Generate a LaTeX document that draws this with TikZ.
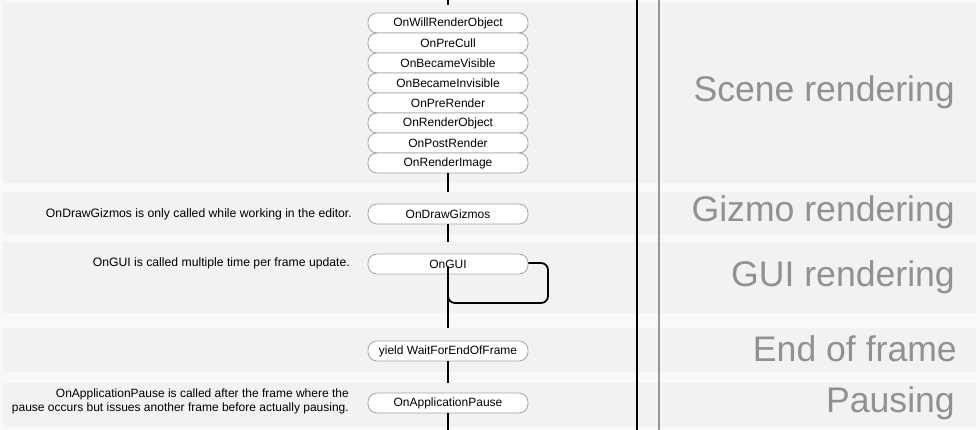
\documentclass[tikz,border=0pt]{standalone}
\usepackage{fontspec}
\setmainfont{Liberation Sans}
\definecolor{bgc}{RGB}{248,249,251}
\definecolor{band}{RGB}{242,242,242}
\definecolor{boxline}{RGB}{165,165,165}
\definecolor{biglabel}{RGB}{145,145,145}
\definecolor{sepgray}{RGB}{150,150,150}
\begin{document}
\begin{tikzpicture}[x=1pt,y=-1pt,
  callbox/.style={draw=boxline,line width=0.8pt,fill=white,rounded corners=9pt,
    minimum width=160pt,minimum height=20pt,inner sep=0pt,
    font=\fontsize{12}{14}\selectfont},
  flow/.style={line width=1.8pt,black},
  note/.style={anchor=east,align=right,inner sep=0pt,font=\fontsize{12.2}{13.5}\selectfont},
  phase/.style={anchor=base east,inner sep=0pt,text=biglabel,font=\fontsize{35.6}{40}\selectfont}]
\useasboundingbox (0,0) rectangle (980,430);
\fill[bgc] (0,0) rectangle (980,430);
% bands
\fill[band] (3,3) rectangle (976,183);
\fill[band] (3,192) rectangle (976,235);
\fill[band] (3,242) rectangle (976,313);
\fill[band] (3,328) rectangle (976,372);
\fill[band] (3,383) rectangle (976,427);
% separators
\draw[line width=1.8pt,black] (637,0) -- (637,430);
\draw[line width=1.3pt,sepgray] (659,0) -- (659,430);
% phase labels
\node[phase] (lscene) at (955,102) {Scene rendering};
\node[phase] (lgizmo) at (955,222) {Gizmo rendering};
\node[phase] (lgui) at (955,287) {GUI rendering};
\node[phase] (lend) at (957,362) {End of frame};
\node[phase] (lpause) at (955,412) {Pausing};
% notes
\node[note] (ngizmo) at (352,214) {OnDrawGizmos is only called while working in the editor.};
\node[note] (ngui) at (350,263) {OnGUI is called multiple time per frame update.};
\node[note,font=\fontsize{12}{13.5}\selectfont] (npause) at (349,401.5) {OnApplicationPause is called after the frame where the\\pause occurs but issues another frame before actually pausing.};
% coordinates
\coordinate (ctop) at (448,0);
\coordinate (ctopend) at (448,5);
\coordinate (cgizmotop) at (448,192);
\coordinate (cguitop) at (448,242);
\coordinate (cendtop) at (448,328);
\coordinate (cpausetop) at (448,383);
\coordinate (cbottom) at (448,430);
\coordinate (cloopA) at (548,263);
\coordinate (cloopB) at (548,303);
\coordinate (cloopC) at (448,303);
% flow lines
\draw[flow] (ctop) -- (ctopend);
% boxes
\node[callbox] (b1) at (448,23) {OnWillRenderObject};
\node[callbox] (b2) at (448,43) {OnPreCull};
\node[callbox] (b3) at (448,63) {OnBecameVisible};
\node[callbox] (b4) at (448,83) {OnBecameInvisible};
\node[callbox] (b5) at (448,103) {OnPreRender};
\node[callbox] (b6) at (448,123) {OnRenderObject};
\node[callbox] (b7) at (448,143) {OnPostRender};
\node[callbox] (b8) at (448,163) {OnRenderImage};
\node[callbox] (gizmo) at (448,214) {OnDrawGizmos};
\node[callbox] (gui) at (448,264) {OnGUI};
\node[callbox] (yield) at (448,351) {yield WaitForEndOfFrame};
\node[callbox] (pause) at (448,403) {OnApplicationPause};
\draw[flow] (b8.south) -- (cgizmotop);
\draw[flow] (gizmo.south) -- (cguitop);
\draw[flow] (gui.south) -- (cendtop);
\draw[flow] (yield.south) -- (cpausetop);
\draw[flow] (pause.south) -- (cbottom);
\draw[flow,rounded corners=7pt] (gui.east |- cloopA) -- (cloopA) -- (cloopB) -- (cloopC) -- ([yshift=8pt]gui.south);
\end{tikzpicture}
\end{document}
